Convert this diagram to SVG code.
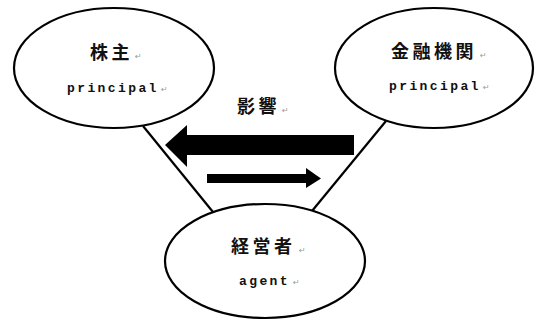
<svg xmlns="http://www.w3.org/2000/svg" width="539" height="321" viewBox="0 0 539 321">
<style>
.node ellipse{fill:#fff;stroke:#000;stroke-width:2.2}
.jp{font-family:"Noto Sans CJK JP","Noto Sans CJK SC",sans-serif;font-weight:bold;font-size:18px;fill:#111;letter-spacing:3.5px}
.en{font-family:"Liberation Mono","DejaVu Sans Mono",monospace;font-weight:bold;font-size:13px;fill:#111;letter-spacing:2.4px}
.rm{font-family:"DejaVu Sans",sans-serif;font-size:8px;fill:#999}
.conn line{stroke:#000;stroke-width:2.2}
</style>
<rect width="539" height="321" fill="#fff"/>
<g id="connectors" class="conn">
<line x1="143" y1="126" x2="213" y2="212"/>
<line x1="386" y1="121" x2="312" y2="211"/>
<polygon points="354,135 187,135 187,125 165,145 187,167 187,155 354,155" fill="#000"/>
<polygon points="207,174 306,174 306,168 321,178.5 306,188 306,183 207,183" fill="#000"/>
<text class="jp" x="237" y="113">影響</text><text class="rm" x="282" y="113">↵</text>
</g>
<g id="shareholder" class="node">
<ellipse cx="114" cy="68" rx="100" ry="60"/>
<text class="jp" x="90" y="59">株主</text><text class="rm" x="135" y="59">↵</text>
<text class="en" x="67" y="92">principal</text><text class="rm" x="161" y="92">↵</text>
</g>
<g id="bank" class="node">
<ellipse cx="434" cy="68" rx="99" ry="60"/>
<text class="jp" x="391" y="58">金融機関</text><text class="rm" x="480" y="58">↵</text>
<text class="en" x="389" y="90">principal</text><text class="rm" x="483" y="90">↵</text>
</g>
<g id="manager" class="node">
<ellipse cx="265" cy="261" rx="100" ry="57"/>
<text class="jp" x="231" y="253">経営者</text><text class="rm" x="299" y="253">↵</text>
<text class="en" x="239" y="285">agent</text><text class="rm" x="293" y="285">↵</text>
</g>
</svg>
